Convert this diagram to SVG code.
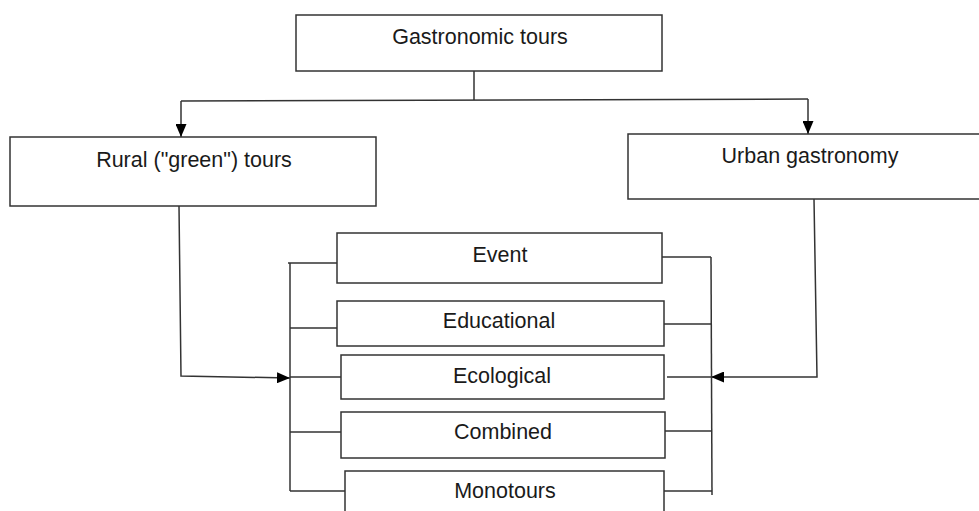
<svg xmlns="http://www.w3.org/2000/svg" width="979" height="511" viewBox="0 0 979 511">
<style>
.box{fill:#fff;stroke:#333;stroke-width:1.5}
.lbl{font-family:"Liberation Sans",Arial,sans-serif;font-size:21.5px;fill:#1a1a1a;text-anchor:middle}
.ln{fill:none;stroke:#333;stroke-width:1.5}
</style>
<defs>
<marker id="arr" viewBox="0 0 13 11" refX="13" refY="5.5" markerWidth="13" markerHeight="11" markerUnits="userSpaceOnUse" orient="auto">
<path d="M0,0 L13,5.5 L0,11 Z" fill="#000"/>
</marker>
</defs>
<rect width="979" height="511" fill="#fff"/>
<g id="connectors">
<path class="ln" d="M474,71 V100"/>
<path class="ln" d="M181,101 L808,99"/>
<path class="ln" d="M181,101 V137" marker-end="url(#arr)"/>
<path class="ln" d="M808,99 V134" marker-end="url(#arr)"/>
<path class="ln" d="M179,206 L181,376 L290,378" marker-end="url(#arr)"/>
<path class="ln" d="M814,199 L817,377 H711" marker-end="url(#arr)"/>
<path class="ln" d="M290,263 V491"/>
<path class="ln" d="M288,263 H337 M290,328 H337 M290,377 H341 M290,432 H341 M290,491 H345"/>
<path class="ln" d="M711,257 L712,495"/>
<path class="ln" d="M662,257 H711 M664,324 H711 M667,377 H711 M665,431 H712 M664,491 H712"/>
</g>
<g id="n-gastro"><rect class="box" x="296" y="15" width="366" height="56"/><text class="lbl" x="480" y="44">Gastronomic tours</text></g>
<g id="n-rural"><rect class="box" x="10" y="137" width="366" height="69"/><text class="lbl" x="194" y="167">Rural ("green") tours</text></g>
<g id="n-urban"><rect class="box" x="628" y="134" width="352" height="65"/><text class="lbl" x="810" y="163">Urban gastronomy</text></g>
<g id="n-event"><rect class="box" x="337" y="233" width="325" height="50"/><text class="lbl" x="500" y="262">Event</text></g>
<g id="n-educational"><rect class="box" x="337" y="301" width="327" height="45"/><text class="lbl" x="499" y="328">Educational</text></g>
<g id="n-ecological"><rect class="box" x="341" y="355" width="323" height="44"/><text class="lbl" x="502" y="383">Ecological</text></g>
<g id="n-combined"><rect class="box" x="341" y="412" width="324" height="46"/><text class="lbl" x="503" y="439">Combined</text></g>
<g id="n-monotours"><rect class="box" x="345" y="471" width="319" height="50"/><text class="lbl" x="505" y="498">Monotours</text></g>
</svg>
